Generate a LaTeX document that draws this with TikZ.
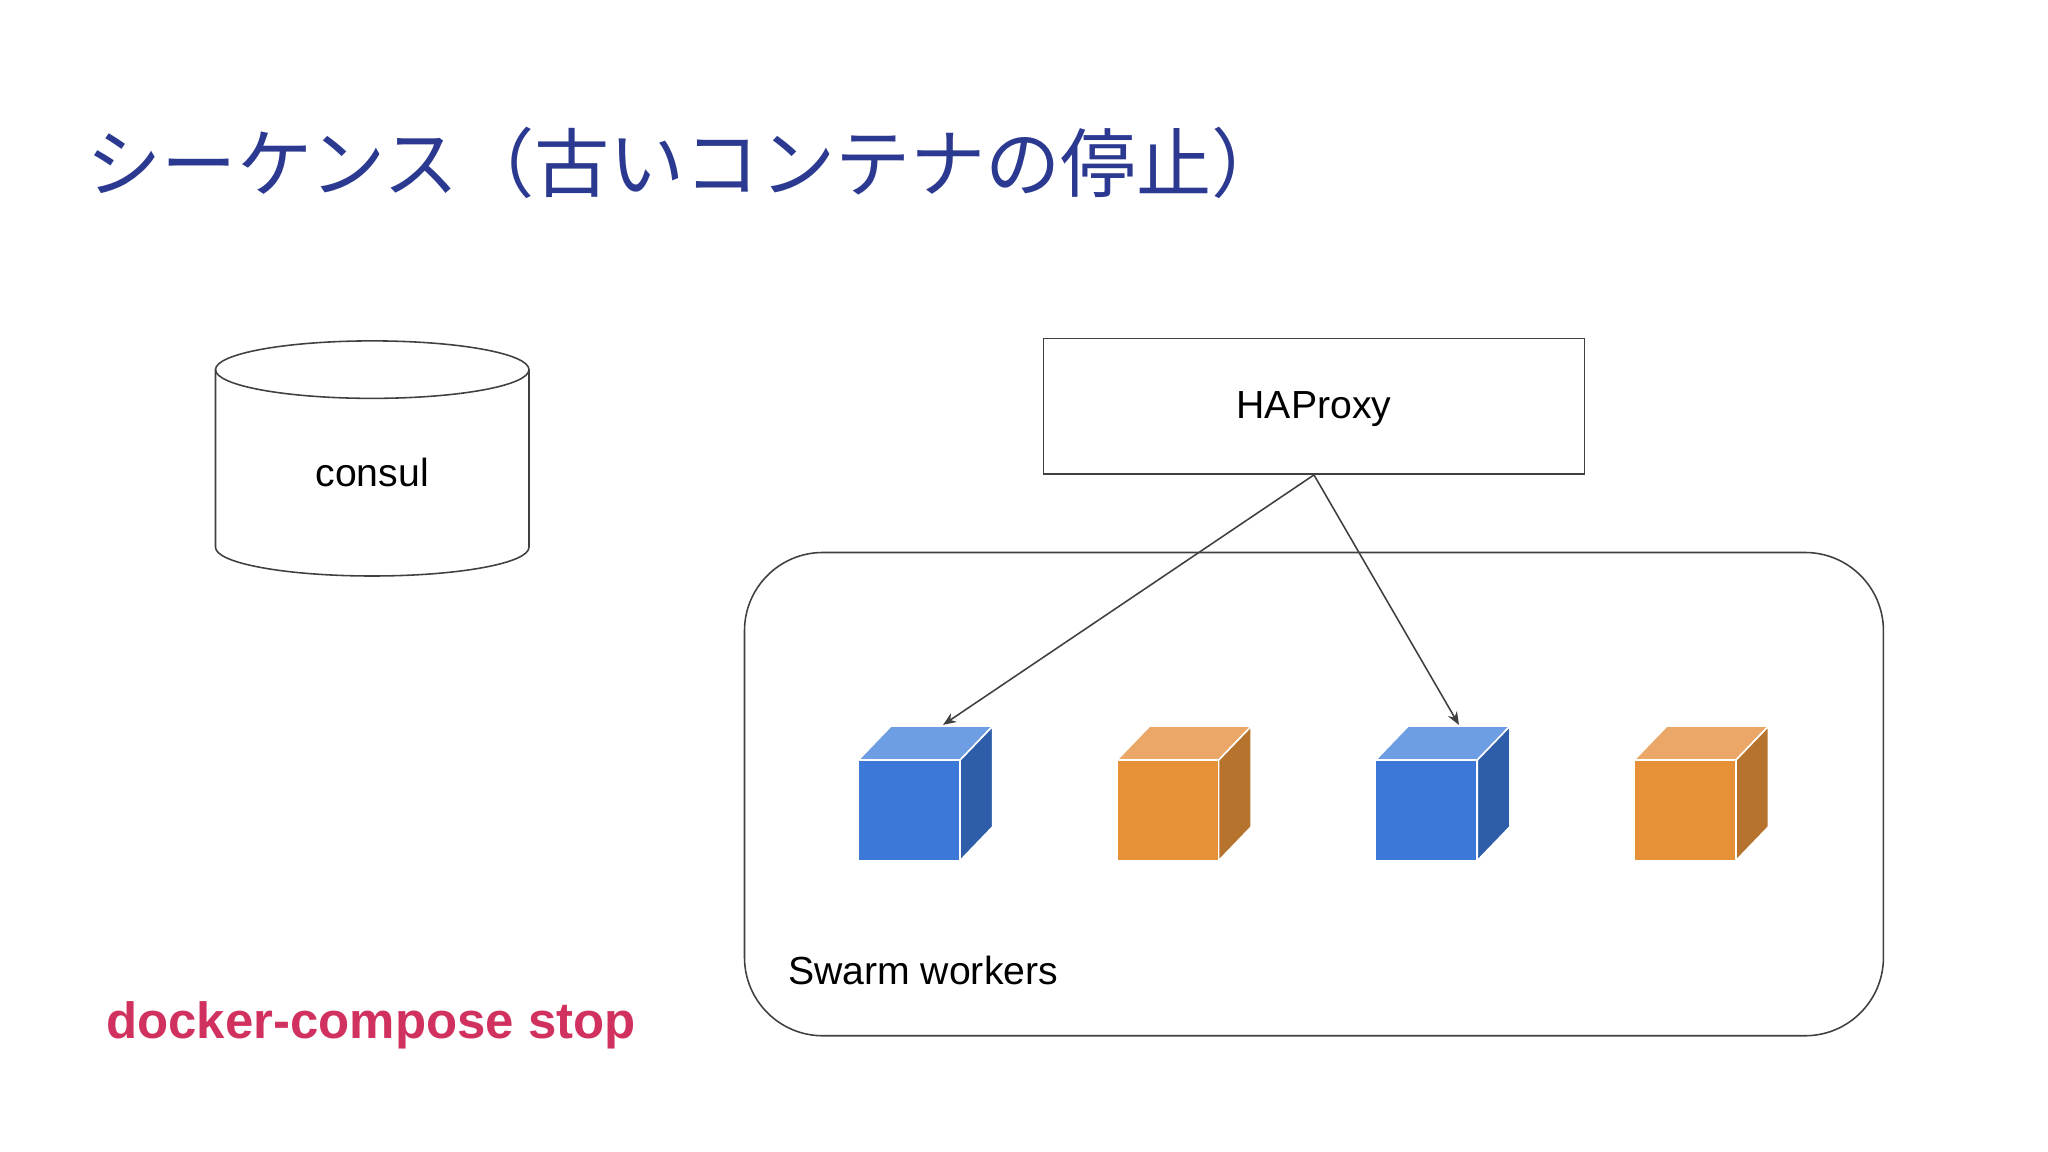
\documentclass[tikz,border=0pt]{standalone}
\usepackage{fontspec}
\setmainfont{Liberation Sans}
\newfontfamily\cjk{Noto Sans CJK JP}
\usetikzlibrary{shapes.geometric,arrows.meta}
\definecolor{ttl}{HTML}{2B3990}
\definecolor{bF}{HTML}{3C78D8}\definecolor{bT}{HTML}{6D9EE3}\definecolor{bS}{HTML}{2E5EAA}
\definecolor{oF}{HTML}{E69138}\definecolor{oT}{HTML}{EBA767}\definecolor{oS}{HTML}{B5732D}
\definecolor{red}{HTML}{D0315F}
\tikzset{lbl/.style={font=\fontsize{15pt}{18pt}\selectfont,inner sep=0pt},
 arr/.style={draw=black!75,line width=0.6pt,-{Stealth[length=5pt,width=4pt]}}}
\newcommand{\mycube}[4]{% x, front, top, side
 \fill[#3,draw=white,line width=0.6pt] (#1,582)--(#1+25,556)--(#1+103,556)--(#1+78,582)--cycle;
 \fill[#4,draw=white,line width=0.6pt] (#1+78,582)--(#1+103,556)--(#1+103,633)--(#1+78,659)--cycle;
 \fill[#2,draw=white,line width=0.6pt] (#1,582) rectangle (#1+78,659);}
\begin{document}
\begin{tikzpicture}[x=0.5pt,y=-0.5pt]
\useasboundingbox (0,0) rectangle (1568,882);
\node[anchor=west,text=ttl,inner sep=0pt,font=\cjk\fontsize{28.8pt}{30pt}\selectfont] (title) at (66,125) {シーケンス（古いコンテナの停止）};
% consul cylinder
\draw[black!75,line width=0.6pt,fill=white] (165,283) -- (165,419) arc[start angle=180,end angle=0,x radius=120,y radius=22] -- (405,283);
\draw[black!75,line width=0.6pt] (285,283) ellipse[x radius=120,y radius=22];
\node[lbl] (consul) at (285,362) {consul};
% HAProxy
\node[draw=black!75,line width=0.6pt,minimum width=207pt,minimum height=52pt] (ha) at (1006,311) {};
\node[lbl] (halbl) at (1006,313) {HAProxy};
% swarm
\draw[black!75,line width=0.6pt,rounded corners=30pt] (570,423) rectangle (1442,793);
\node[lbl,anchor=west] (sw) at (603,743) {Swarm workers};
\mycube{657}{bF}{bT}{bS}
\mycube{855}{oF}{oT}{oS}
\mycube{1053}{bF}{bT}{bS}
\mycube{1251}{oF}{oT}{oS}
\coordinate (c1) at (722,555);
\coordinate (c3) at (1117,555);
\draw[arr] (ha.south) -- (c1);
\draw[arr] (ha.south) -- (c3);
\node[anchor=west,inner sep=0pt,text=red,font=\bfseries\fontsize{19.5pt}{22pt}\selectfont] (cmd) at (81,785) {docker-compose stop};
\end{tikzpicture}
\end{document}
